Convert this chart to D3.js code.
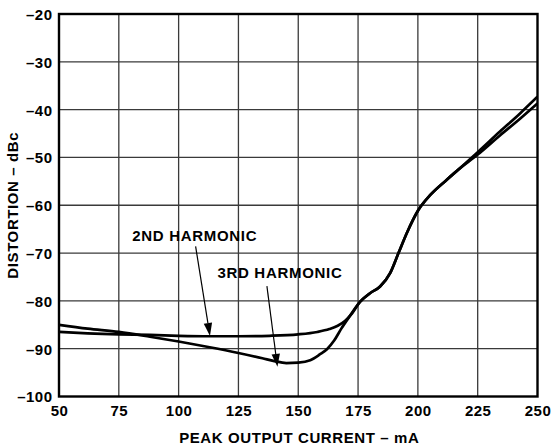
<!DOCTYPE html>
<html><head><meta charset="utf-8">
<script src="https://cdn.jsdelivr.net/npm/d3@7"></script>
<style>
html,body{margin:0;padding:0;background:#fff;}
text{font-family:"Liberation Sans",Arial,Helvetica,sans-serif;font-weight:bold;fill:#000;}
</style></head>
<body><svg id="c" width="552" height="447"></svg>
<script>
// ---- data ----
const xTicks = [50, 75, 100, 125, 150, 175, 200, 225, 250];
const yTicks = [-20, -30, -40, -50, -60, -70, -80, -90, -100];
const xTickLabels = ["50", "75", "100", "125", "150", "175", "200", "225", "250"];
const yTickLabels = ["–20", "–30", "–40", "–50", "–60", "–70", "–80", "–90", "–100"];

const currentH2 = [50, 62, 75, 88, 100, 113, 125, 138, 150, 158, 163, 166.5, 169.5, 172.5, 175.8, 180, 184.2, 188.4, 191.9, 195.3, 200.2, 205.1, 212, 217, 225, 234.3, 242.7, 250];
const distH2    = [-86.5, -86.8, -87.0, -87.1, -87.3, -87.4, -87.4, -87.3, -87.0, -86.5, -85.9, -85.2, -84.2, -82.6, -80.2, -78.4, -77.0, -74.2, -70.0, -65.9, -61.0, -57.9, -54.7, -52.5, -48.9, -44.6, -40.8, -37.3];

const currentH3 = [50, 62, 75, 88, 100, 113, 125, 135, 140, 145, 150, 155, 159, 162, 165, 168, 171.5, 175.8, 180, 184.2, 188.4, 191.9, 195.3, 200.2, 205.1, 212, 217, 225, 234.3, 242.7, 250];
const distH3    = [-85.0, -85.8, -86.5, -87.5, -88.5, -89.7, -90.9, -92.0, -92.6, -93.0, -92.9, -92.4, -91.2, -90.1, -88.3, -85.8, -83.2, -80.2, -78.4, -77.0, -74.2, -70.0, -65.9, -61.0, -57.9, -54.7, -52.5, -49.4, -45.4, -41.9, -38.7];

const labelText = ["2ND HARMONIC", "3RD HARMONIC"];
const labelPos = [[80.6, -67.4], [116.2, -75.3]];          // text start (mA, dBc)
const arrowFrom = [[107.1, -68.6], [136.9, -76.9]];
const arrowTo   = [[113.1, -87.35], [141.3, -93.8]];

// ---- chart ----
const svg = d3.select("#c");
const L = 59, R = 537.5, T = 14, B = 396.5;
const x = d3.scaleLinear().domain([50, 250]).range([L, R]);
const y = d3.scaleLinear().domain([-100, -20]).range([B, T]);

const grid = svg.append("g").attr("stroke", "#3a3a3a").attr("stroke-width", 1.3);
xTicks.slice(1, -1).forEach(v => grid.append("line").attr("x1", x(v)).attr("x2", x(v)).attr("y1", T).attr("y2", B));
yTicks.slice(1, -1).forEach(v => grid.append("line").attr("x1", L).attr("x2", R).attr("y1", y(v)).attr("y2", y(v)));

// axes via d3 (labels only)
const xAxis = d3.axisBottom(x).tickValues(xTicks).tickSize(0).tickPadding(0)
  .tickFormat((d, i) => xTickLabels[i]);
const gx = svg.append("g").attr("transform", `translate(0,${B})`).call(xAxis);
gx.select(".domain").remove();
gx.selectAll("text").attr("dy", null).attr("y", 19.5).style("font-size", "15px")
  .style("letter-spacing", "0.5px").attr("font-family", null);

const yAxis = d3.axisLeft(y).tickValues(yTicks).tickSize(0).tickPadding(0)
  .tickFormat((d, i) => yTickLabels[i]);
const gy = svg.append("g").attr("transform", `translate(${L},0)`).call(yAxis);
gy.select(".domain").remove();
gy.selectAll("text").attr("x", -6.5).attr("dy", "0.36em").style("font-size", "15px")
  .style("letter-spacing", "0.5px").attr("font-family", null);

// curves
const line = d3.line().x(d => x(d[0])).y(d => y(d[1])).curve(d3.curveMonotoneX);
const s2 = currentH2.map((c, i) => [c, distH2[i]]);
const s3 = currentH3.map((c, i) => [c, distH3[i]]);
svg.append("defs").append("clipPath").attr("id", "clip").append("rect")
  .attr("x", L).attr("y", T).attr("width", R - L).attr("height", B - T);
const cg = svg.append("g").attr("clip-path", "url(#clip)");
[s2, s3].forEach(s => cg.append("path").attr("d", line(s)).attr("fill", "none")
  .attr("stroke", "#000").attr("stroke-width", 2.7).attr("stroke-linejoin", "round"));

// frame
svg.append("rect").attr("x", L).attr("y", T).attr("width", R - L).attr("height", B - T)
  .attr("fill", "none").attr("stroke", "#000").attr("stroke-width", 2.4);

// annotations
labelText.forEach((t, i) => {
  svg.append("text").attr("x", x(labelPos[i][0])).attr("y", y(labelPos[i][1]))
    .style("font-size", "15px").style("letter-spacing", "0.7px").text(t);
  const x1 = x(arrowFrom[i][0]), y1 = y(arrowFrom[i][1]);
  const x2 = x(arrowTo[i][0]), y2 = y(arrowTo[i][1]);
  const ang = Math.atan2(y2 - y1, x2 - x1);
  const hl = 13, hw = 4.2;
  const bx = x2 - hl * Math.cos(ang), by = y2 - hl * Math.sin(ang);
  svg.append("line").attr("x1", x1).attr("y1", y1).attr("x2", bx).attr("y2", by)
    .attr("stroke", "#000").attr("stroke-width", 1.2);
  const px = -Math.sin(ang) * hw, py = Math.cos(ang) * hw;
  svg.append("path").attr("d", `M${x2},${y2}L${bx + px},${by + py}L${bx - px},${by - py}Z`).attr("fill", "#000");
});

// axis titles
svg.append("text").attr("x", (L + R) / 2 + 1).attr("y", 443).attr("text-anchor", "middle")
  .style("font-size", "15px").style("letter-spacing", "0.6px").text("PEAK OUTPUT CURRENT – mA");
svg.append("text").attr("transform", `translate(18,${(T + B) / 2}) rotate(-90)`).attr("text-anchor", "middle")
  .style("font-size", "15px").style("letter-spacing", "0.6px").text("DISTORTION – dBc");
</script></body></html>
